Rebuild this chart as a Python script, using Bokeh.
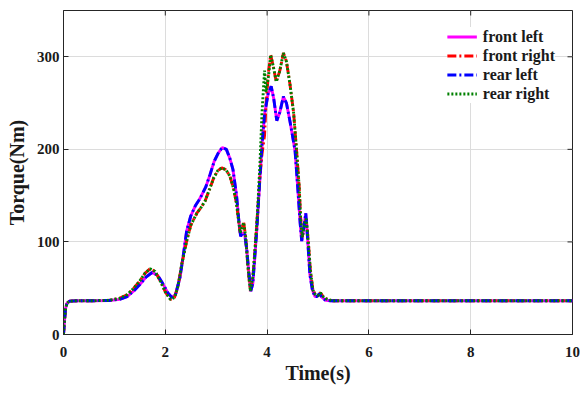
import math
from bokeh.plotting import figure
from bokeh.models import FixedTicker, Range1d, Legend, LegendItem
from bokeh.embed import file_html
from bokeh.resources import INLINE

# time axis (s) for the left-side wheels
t_left = [0, 0.02, 0.04, 0.07, 0.12, 0.3, 0.6, 0.9, 1.1, 1.25, 1.38, 1.5, 1.62, 1.74, 1.85,
          1.95, 2.05, 2.13, 2.2, 2.29, 2.36, 2.42, 2.5, 2.59, 2.66, 2.72, 2.8, 2.88, 2.96,
          3.04, 3.12, 3.2, 3.27, 3.33, 3.4, 3.45, 3.48, 3.52, 3.56, 3.6, 3.64, 3.68, 3.72,
          3.8, 3.86, 3.9, 3.95, 4.02, 4.08, 4.13, 4.19, 4.25, 4.32, 4.38, 4.45, 4.52, 4.55,
          4.6, 4.65, 4.68, 4.72, 4.76, 4.8, 4.84, 4.89, 4.94, 4.98, 5.03, 5.08, 5.15, 5.24,
          5.4, 6, 8, 10]
front_left = [0, 15, 28, 34, 36, 36.5, 36.5, 36.8, 38, 41, 47, 54, 62, 67, 64,
              55, 45, 40, 43, 62, 88, 112, 128, 139, 145, 151, 160, 173, 187,
              196, 202, 200, 190, 178, 150, 120, 106, 110, 108, 92, 68, 47, 55,
              115, 170, 205, 238, 260, 268, 255, 231, 240, 257, 250, 230, 208, 198,
              160, 120, 101, 115, 131, 100, 65, 48, 41, 41, 44, 40, 37, 36.5,
              36.5, 36.5, 36.5, 36.5]
rear_left = [0, 15, 28, 34, 36, 36.5, 36.5, 36.8, 38, 41, 47, 54, 62, 67, 64,
             55, 45, 40, 43, 62, 88, 112, 128, 139, 145, 151, 160, 173, 187,
             196, 202, 200, 190, 178, 150, 120, 106, 110, 108, 92, 68, 47, 55,
             115, 170, 205, 238, 260, 268, 255, 231, 240, 257, 250, 230, 208, 198,
             160, 120, 101, 115, 131, 100, 65, 48, 41, 41, 44, 40, 37, 36.5,
             36.5, 36.5, 36.5, 36.5]

# time axis (s) for the right-side wheels
t_right = [0, 0.02, 0.04, 0.07, 0.12, 0.3, 0.6, 0.9, 1.1, 1.25, 1.38, 1.5, 1.6, 1.7, 1.8,
           1.9, 2.0, 2.1, 2.18, 2.25, 2.32, 2.42, 2.5, 2.62, 2.7, 2.78, 2.87, 2.95, 3.03,
           3.11, 3.19, 3.27, 3.34, 3.4, 3.47, 3.54, 3.58, 3.62, 3.67, 3.72, 3.76, 3.81,
           3.86, 3.9, 3.95, 3.98, 4.03, 4.07, 4.12, 4.18, 4.25, 4.32, 4.38, 4.45, 4.52,
           4.58, 4.63, 4.66, 4.69, 4.73, 4.77, 4.81, 4.85, 4.9, 4.95, 5.0, 5.05, 5.1,
           5.18, 5.28, 5.4, 6, 8, 10]
front_right = [0, 15, 28, 34, 36, 36.5, 36.5, 37, 39, 43, 50, 58, 66, 71, 68,
               58, 46, 38, 40, 52, 75, 101, 118, 131, 137, 144, 157, 169, 177,
               180, 178, 171, 158, 141, 110, 121, 105, 75, 47, 62, 90, 130,
               170, 195, 215, 250, 285, 302, 290, 273, 285, 304, 295, 270, 240,
               198, 160, 125, 105, 118, 125, 100, 70, 48, 43, 42, 45, 41,
               38, 36.5, 36.5, 36.5, 36.5, 36.5]
rear_right = [0, 15, 28, 34, 36, 36.5, 36.5, 37, 39, 43, 50, 58, 66, 71, 68,
              58, 46, 38, 40, 52, 75, 101, 118, 131, 137, 144, 157, 169, 177,
              180, 178, 171, 158, 141, 110, 121, 105, 75, 47, 62, 90, 130,
              185, 240, 285, 262, 280, 302, 290, 273, 285, 304, 295, 270, 240,
              198, 160, 125, 105, 118, 125, 100, 70, 48, 43, 42, 45, 41,
              38, 36.5, 36.5, 36.5, 36.5, 36.5]

x_ticks = [0, 2, 4, 6, 8, 10]
y_ticks = [0, 100, 200, 300]
x_min, x_max = 0, 10
y_min, y_max = 0, 350

FONT = "Liberation Serif"
AX = "#262626"
TXT = "#1a1a1a"

p = figure(width=580, height=390, output_backend="svg", toolbar_location=None,
           x_range=Range1d(x_min, x_max), y_range=Range1d(y_min, y_max),
           min_border_left=63, min_border_right=8, min_border_top=10, min_border_bottom=56)

p.outline_line_color = AX
p.outline_line_width = 1

for ax in (p.xaxis[0], p.yaxis[0]):
    ax.major_label_text_font = FONT
    ax.major_label_text_font_style = "bold"
    ax.major_label_text_font_size = "15px"
    ax.major_label_text_color = TXT
    ax.axis_label_text_font = FONT
    ax.axis_label_text_font_style = "bold"
    ax.axis_label_text_font_size = "20px"
    ax.axis_label_text_color = TXT
    ax.axis_line_color = AX
    ax.major_tick_line_color = AX
    ax.major_tick_in = 5
    ax.major_tick_out = 0
    ax.minor_tick_line_color = None

p.xaxis[0].ticker = FixedTicker(ticks=x_ticks)
p.yaxis[0].ticker = FixedTicker(ticks=y_ticks)
p.xaxis[0].axis_label = "Time(s)"
p.yaxis[0].axis_label = "Torque(Nm)"
p.xaxis[0].major_label_standoff = 12
p.yaxis[0].major_label_standoff = 4
p.xaxis[0].axis_label_standoff = 2
p.yaxis[0].axis_label_standoff = 6

p.xgrid.ticker = FixedTicker(ticks=x_ticks)
p.ygrid.ticker = FixedTicker(ticks=y_ticks)
p.grid.grid_line_color = "#dcdcdc"
p.grid.grid_line_width = 1

LW = 2.9
r1 = p.line(t_left, front_left, line_color="#ff00ff", line_width=LW)
r2 = p.line(t_right, front_right, line_color="#ff0000", line_width=LW, line_dash="9 3 2 3")
r3 = p.line(t_left, rear_left, line_color="#0000ff", line_width=LW, line_dash="9 3 2 3")
r4 = p.line(t_right, rear_right, line_color="#008000", line_width=LW, line_dash="2 2")

# inward tick marks on the top and right edges of the box (clipped to the frame)
p.scatter(x_ticks, [y_max] * len(x_ticks), marker="dash", angle=math.pi / 2,
          size=10, line_color=AX, line_width=1)
p.scatter([x_max] * len(y_ticks), y_ticks, marker="dash",
          size=10, line_color=AX, line_width=1)

legend = Legend(items=[LegendItem(label="front left", renderers=[r1]),
                       LegendItem(label="front right", renderers=[r2]),
                       LegendItem(label="rear left", renderers=[r3]),
                       LegendItem(label="rear right", renderers=[r4])],
                location="top_right")
legend.label_text_font = FONT
legend.label_text_font_style = "bold"
legend.label_text_font_size = "16px"
legend.label_text_color = TXT
legend.border_line_color = None
legend.background_fill_color = "white"
legend.background_fill_alpha = 1
legend.glyph_width = 30
legend.glyph_height = 19
legend.label_height = 19
legend.spacing = 0
legend.label_standoff = 6
legend.padding = 6
legend.margin = 17
p.add_layout(legend)

open("out.html", "w").write(file_html(p, INLINE))
